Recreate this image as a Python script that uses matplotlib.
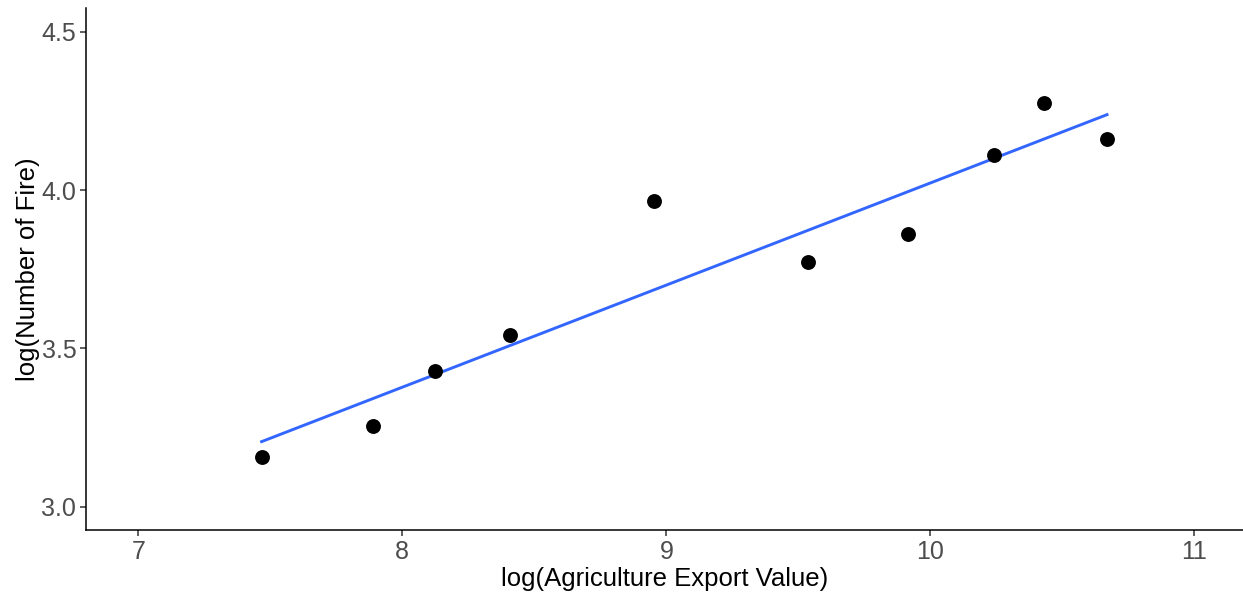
import numpy as np
import matplotlib
matplotlib.use('Agg')
import matplotlib.pyplot as plt

# ===== Данные =====
export_log = [7.467, 7.888, 8.124, 8.408, 8.953, 9.537, 9.915, 10.241, 10.432, 10.669]
fire_log = [3.156, 3.254, 3.428, 3.542, 3.965, 3.772, 3.860, 4.110, 4.275, 4.162]

x_ticks = [7, 8, 9, 10, 11]
y_ticks = [3.0, 3.5, 4.0, 4.5]

plt.rcParams['font.family'] = ['Liberation Sans', 'DejaVu Sans']

fig = plt.figure(figsize=(12.43, 5.92), dpi=100)
ax = fig.add_axes([0.0692, 0.1047, 0.9308, 0.8818])

# линейная регрессия (как geom_smooth(method='lm'))
x = np.array(export_log)
y = np.array(fire_log)
k, b = np.polyfit(x, y, 1)
xs = np.array([x.min(), x.max()])
ax.plot(xs, k * xs + b, color='#3366FF', lw=2.1, zorder=2)

ax.scatter(x, y, s=115, color='black', zorder=3, linewidths=0)

ax.set_xlim(6.802, 11.184)
ax.set_ylim(2.926, 4.575)
ax.set_xticks(x_ticks)
ax.set_yticks(y_ticks)
ax.set_yticklabels([f'{v:.1f}' for v in y_ticks])

for s in ['top', 'right']:
    ax.spines[s].set_visible(False)
for s in ['left', 'bottom']:
    ax.spines[s].set_color('black')
    ax.spines[s].set_linewidth(1.1)

ax.tick_params(axis='both', length=4, width=1.1, color='#333333',
               labelcolor='#4D4D4D', labelsize=18, pad=3)

ax.set_xlabel('log(Agriculture Export Value)', fontsize=18.5, color='black', labelpad=2)
ax.set_ylabel('log(Number of Fire)', fontsize=18.5, color='black', labelpad=1)

fig.savefig('out.png', dpi=100)
